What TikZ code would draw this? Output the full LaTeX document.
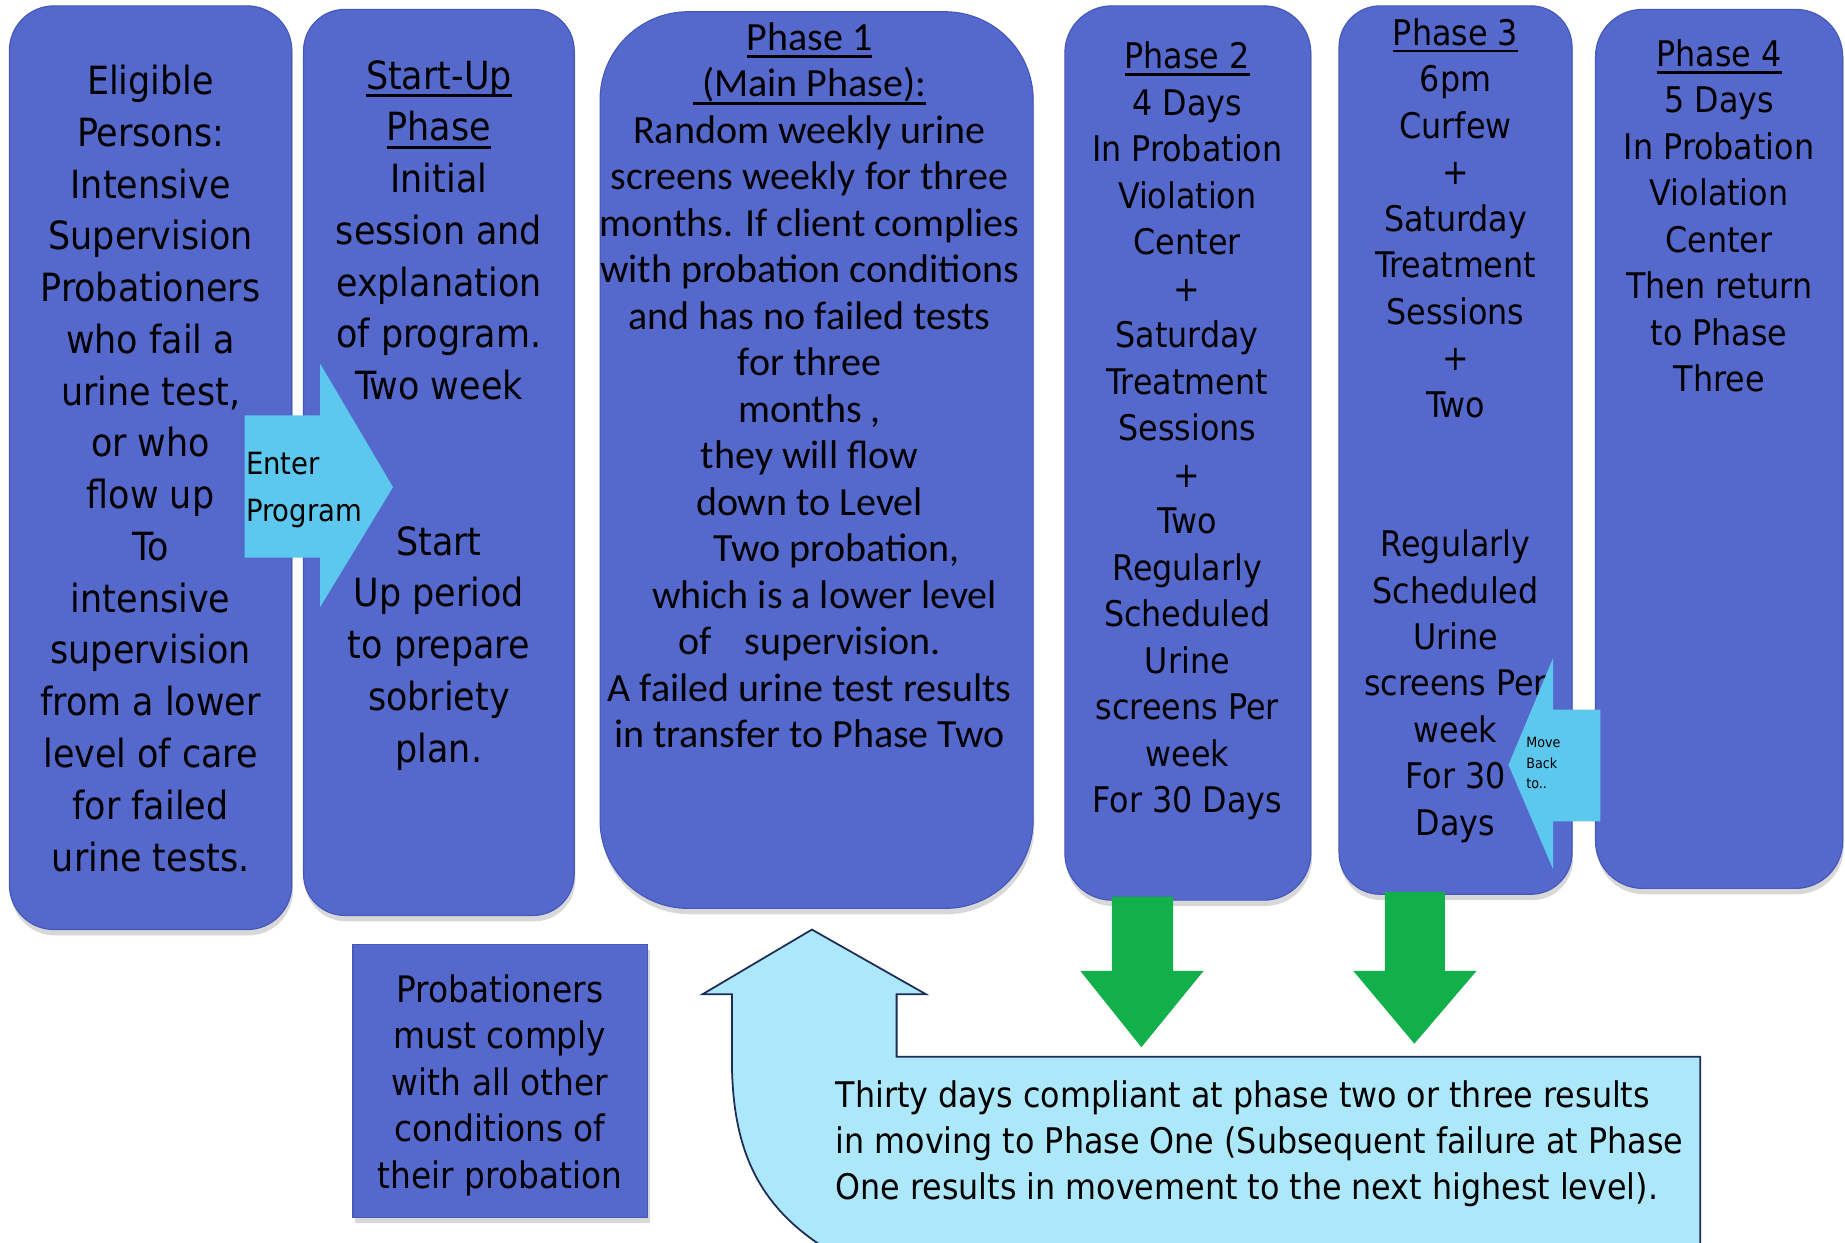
\documentclass[tikz,border=0pt]{standalone}
\usepackage{fontspec}
\setmainfont{DejaVu Sans Condensed}
\newfontfamily\calib{Carlito}
\usetikzlibrary{shadows}
\newcommand\ulx[1]{\setbox0=\hbox{#1}\rlap{\rule[-0.2em]{\wd0}{0.08em}}\box0}
\definecolor{boxblue}{RGB}{85,104,204}
\definecolor{boxedge}{RGB}{70,88,185}
\definecolor{arrcyan}{RGB}{92,200,237}
\definecolor{bigcyan}{RGB}{172,232,250}
\definecolor{navy}{RGB}{30,45,85}
\definecolor{arrgreen}{RGB}{18,176,74}
\begin{document}
\begin{tikzpicture}[x=1pt,y=-1pt,
  phbox/.style={draw=boxedge, line width=1pt, fill=boxblue, rounded corners=#1, inner sep=0,
    drop shadow={shadow xshift=1pt, shadow yshift=-5pt, opacity=0.3}},
  sqbox/.style={draw=boxedge, line width=1pt, fill=boxblue, inner sep=0,
    drop shadow={shadow xshift=2pt, shadow yshift=-4pt, opacity=0.3}},
  tA/.style={font=\fontsize{33}{44}\selectfont, align=center, anchor=north, inner sep=0},
  tB/.style={font=\fontsize{30}{39.5}\selectfont, align=center, anchor=north, inner sep=0},
  tC/.style={font=\calib\fontsize{34}{39.5}\selectfont, align=center, anchor=north, inner sep=0},
  tD/.style={font=\fontsize{31}{39.5}\selectfont, align=center, anchor=north, inner sep=0},
  tE/.style={font=\fontsize{30}{39}\selectfont, align=left, anchor=north west, inner sep=0},
  cyanarrow/.style={fill=arrcyan},
  greenarrow/.style={fill=arrgreen},
  bigarrow/.style={fill=bigcyan, draw=navy, line width=1.5pt}
]
\useasboundingbox (0,0) rectangle (1568,1056);
\fill[white] (0,0) rectangle (1568,1056);

% phase boxes
\node[phbox=38pt, minimum width=240pt, minimum height=785pt] (elig) at (128,397.5) {};
\node[phbox=35pt, minimum width=230pt, minimum height=770pt] (start) at (373,393) {};
\node[phbox=75pt, minimum width=368pt, minimum height=762pt] (ph1) at (694,391) {};
\node[phbox=40pt, minimum width=209pt, minimum height=760pt] (ph2) at (1009.5,385) {};
\node[phbox=35pt, minimum width=198pt, minimum height=755pt] (ph3) at (1237,382.5) {};
\node[phbox=40pt, minimum width=210pt, minimum height=747pt] (ph4) at (1461,381.5) {};
\node[sqbox, minimum width=250pt, minimum height=232pt] (comply) at (425,919) {};

% texts
\node[tA] (eligt) at (128,55) {Eligible\\Persons:\\Intensive\\Supervision\\Probationers\\who fail a\\urine test,\\or who\\flow up\\To\\intensive\\supervision\\from a lower\\level of care\\for failed\\urine tests.};
\node[tA] (startt) at (373,51) {\ulx{Start-Up}\\\ulx{Phase}\\Initial\\session and\\explanation\\of program.\\Two week\\[88pt]Start\\Up period\\to prepare\\sobriety\\plan.};
\node[tC] (ph1t) at (688,19) {\ulx{Phase 1}\\\ulx{\ (Main Phase):}\\Random weekly urine\\screens weekly for three\\months. If client complies\\with probation conditions\\and has no failed tests\\for three\\months ,\\they will flow\\down to Level\\\hspace{1.35em}Two probation,\\\hspace{0.75em}which is a lower level\\of\hspace{0.6em} supervision.\\A failed urine test results\\in transfer to Phase Two};
\node[tB] (ph2t) at (1009,35.5) {\ulx{Phase 2}\\4 Days\\In Probation\\Violation\\Center\\+\\Saturday\\Treatment\\Sessions\\+\\Two\\Regularly\\Scheduled\\Urine\\screens Per\\week\\For 30 Days};
\node[tB] (ph3t) at (1237,15.5) {\ulx{Phase 3}\\6pm\\Curfew\\+\\Saturday\\Treatment\\Sessions\\+\\Two\\[79pt]Regularly\\Scheduled\\Urine\\screens Per\\week\\For 30\\Days};
\node[tB] (ph4t) at (1461,33.5) {\ulx{Phase 4}\\5 Days\\In Probation\\Violation\\Center\\Then return\\to Phase\\Three};
\node[tD] (complyt) at (425,828) {Probationers\\must comply\\with all other\\conditions of\\their probation};

% enter program arrow
\path[cyanarrow] (208,353) -- (272,353) -- (272,309) -- (334,414) -- (272,516) -- (272,474) -- (208,474) -- cycle;
\node[font=\fontsize{26}{40}\selectfont, align=left, anchor=north west, inner sep=0] (entert) at (209,384) {Enter\\Program};

% move back arrow
\path[cyanarrow] (1360,603) -- (1320,603) -- (1320,559) -- (1282,650) -- (1320,739) -- (1320,698) -- (1360,698) -- cycle;
\node[font=\fontsize{12}{17.5}\selectfont, align=left, anchor=north west, inner sep=0] (movet) at (1297,626.5) {Move\\Back\\to..};

% green arrows
\path[greenarrow] (945,762) -- (997,762) -- (997,825) -- (1023,825) -- (970,890) -- (918,825) -- (945,825) -- cycle;
\path[greenarrow] (1177,758) -- (1228,758) -- (1228,825) -- (1255,825) -- (1202,887) -- (1150,825) -- (1177,825) -- cycle;

% big return arrow
\begin{scope}
\clip (0,0) rectangle (1568,1056);
\path[bigarrow] (1445,898) -- (762,898) -- (762,845) -- (787,845) -- (690,790) -- (597,845) -- (622,845) -- (622,900) .. controls (622,1000) and (660,1050) .. (760,1090) -- (1445,1090) -- cycle;
\end{scope}
\node[tE] (bottomt) at (710,918.5) {Thirty days compliant at phase two or three results\\in moving to Phase One (Subsequent failure at Phase\\One results in movement to the next highest level).};
\end{tikzpicture}
\end{document}
